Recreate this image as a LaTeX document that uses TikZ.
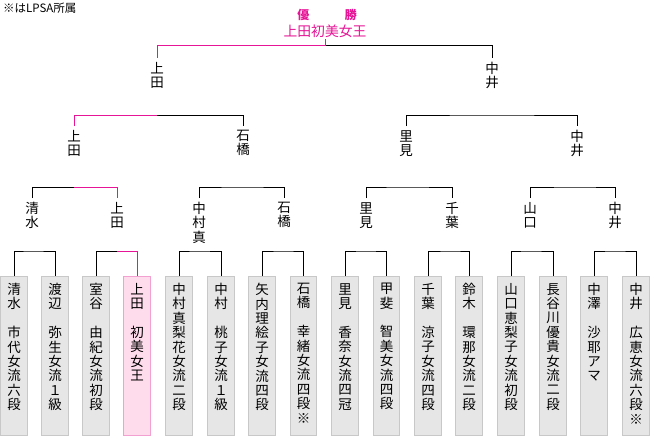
\documentclass[tikz,border=0pt]{standalone}
\usepackage{fontspec}
\newfontfamily\jpfont{Noto Sans CJK JP}
\usetikzlibrary{positioning}
\definecolor{winpink}{RGB}{230,20,150}
\definecolor{boxgray}{RGB}{230,230,230}
\definecolor{edgegray}{RGB}{200,200,200}
\definecolor{boxpink}{RGB}{255,220,236}
\definecolor{edgepink}{RGB}{242,160,210}

\begin{document}
\begin{tikzpicture}[
    x=1pt, y=-1pt,
    player/.style={draw=edgegray, fill=boxgray, line width=1pt, minimum width=26.5pt,
                   minimum height=159pt, inner sep=0pt, anchor=north},
    winbox/.style={player, draw=edgepink, fill=boxpink},
    pname/.style={font=\jpfont\fontsize{13.5}{14.4}\selectfont, align=center, inner sep=0pt},
    rname/.style={pname, anchor=north, inner xsep=0pt, inner ysep=4pt},
    bline/.style={line width=1pt, black},
    wline/.style={line width=1pt, winpink},
]
\useasboundingbox[fill=white] (0,0) rectangle (650,436);

\node[font=\jpfont\fontsize{11.5}{12}\selectfont, anchor=north west, inner sep=0pt] (note) at (3,3) {※はLPSA所属};

% Champion
\node[font=\jpfont\bfseries\fontsize{12}{12}\selectfont, text=winpink, inner sep=0pt] (yusho) at (327,15) {優\hspace{35.5pt}勝};
\node[font=\jpfont\fontsize{13.8}{14}\selectfont, text=winpink, anchor=south, inner xsep=0pt, inner ysep=1.5pt] (champ) at (325,39) {上田初美女王};

% Players
\node[player] (p1) at (14,276) {};
\node[player] (p2) at (55,276) {};
\node[player] (p3) at (96,276) {};
\node[winbox] (p4) at (137,276) {};
\node[player] (p5) at (179,276) {};
\node[player] (p6) at (221,276) {};
\node[player] (p7) at (262,276) {};
\node[player] (p8) at (303.5,276) {};
\node[player] (p9) at (345,276) {};
\node[player] (p10) at (386.5,276) {};
\node[player] (p11) at (428,276) {};
\node[player] (p12) at (469,276) {};
\node[player] (p13) at (511,276) {};
\node[player] (p14) at (553,276) {};
\node[player] (p15) at (594,276) {};
\node[player] (p16) at (636,276) {};

\node[pname, below=7pt of p1.north] (n1) {清\\水\\　\\市\\代\\女\\流\\六\\段};
\node[pname, below=7pt of p2.north] (n2) {渡\\辺\\　\\弥\\生\\女\\流\\１\\級};
\node[pname, below=7pt of p3.north] (n3) {室\\谷\\　\\由\\紀\\女\\流\\初\\段};
\node[pname, below=7pt of p4.north] (n4) {上\\田\\　\\初\\美\\女\\王};
\node[pname, below=7pt of p5.north] (n5) {中\\村\\真\\梨\\花\\女\\流\\二\\段};
\node[pname, below=7pt of p6.north] (n6) {中\\村\\　\\桃\\子\\女\\流\\１\\級};
\node[pname, below=7pt of p7.north] (n7) {矢\\内\\理\\絵\\子\\女\\流\\四\\段};
\node[pname, below=7pt of p8.north] (n8) {石\\橋\\　\\幸\\緒\\女\\流\\四\\段\\※};
\node[pname, below=7pt of p9.north] (n9) {里\\見\\　\\香\\奈\\女\\流\\四\\冠};
\node[pname, below=7pt of p10.north] (n10) {甲\\斐\\　\\智\\美\\女\\流\\四\\段};
\node[pname, below=7pt of p11.north] (n11) {千\\葉\\　\\涼\\子\\女\\流\\四\\段};
\node[pname, below=7pt of p12.north] (n12) {鈴\\木\\　\\環\\那\\女\\流\\二\\段};
\node[pname, below=7pt of p13.north] (n13) {山\\口\\恵\\梨\\子\\女\\流\\初\\段};
\node[pname, below=7pt of p14.north] (n14) {長\\谷\\川\\優\\貴\\女\\流\\二\\段};
\node[pname, below=7pt of p15.north] (n15) {中\\澤\\　\\沙\\耶\\ア\\マ};
\node[pname, below=7pt of p16.north] (n16) {中\\井\\　\\広\\恵\\女\\流\\六\\段\\※};

% Round winners
\node[rname] (r2a) at (32,198) {清\\水};
\node[rname] (r2b) at (117,198) {上\\田};
\node[rname] (r2c) at (199,198) {中\\村\\真};
\node[rname] (r2d) at (284,198) {石\\橋};
\node[rname] (r2e) at (366,198) {里\\見};
\node[rname] (r2f) at (452,198) {千\\葉};
\node[rname] (r2g) at (530,198) {山\\口};
\node[rname] (r2h) at (615,198) {中\\井};

\node[rname] (r3a) at (74,126) {上\\田};
\node[rname] (r3b) at (243,126) {石\\橋};
\node[rname] (r3c) at (406,126) {里\\見};
\node[rname] (r3d) at (577,126) {中\\井};

\node[rname] (r4a) at (157,58) {上\\田};
\node[rname] (r4b) at (492,58) {中\\井};

% Round 1
\draw[bline] (p1.north) |- (r2a |- 0,251) -| (p2.north);
\draw[bline] (p3.north) |- (r2b |- 0,251);
\draw[wline] (r2b |- 0,251) -| (p4.north);
\draw[bline] (p5.north) |- (r2c |- 0,251) -| (p6.north);
\draw[bline] (p7.north) |- (r2d |- 0,251) -| (p8.north);
\draw[bline] (p9.north) |- (r2e |- 0,251) -| (p10.north);
\draw[bline] (p11.north) |- (r2f |- 0,251) -| (p12.north);
\draw[bline] (p13.north) |- (r2g |- 0,251) -| (p14.north);
\draw[bline] (p15.north) |- (r2h |- 0,251) -| (p16.north);

% Round 2
\draw[bline] (r2a.north) |- (r3a |- 0,187);
\draw[wline] (r3a |- 0,187) -| (r2b.north);
\draw[bline] (r2c.north) |- (r3b |- 0,187) -| (r2d.north);
\draw[bline] (r2e.north) |- (r3c |- 0,187) -| (r2f.north);
\draw[bline] (r2g.north) |- (r3d |- 0,187) -| (r2h.north);

% Round 3
\draw[bline] (r4a |- 0,115) -| (r3b.north);
\draw[wline] (r3a.north) |- (r4a |- 0,115);
\draw[bline] (r3c.north) |- (r4b |- 0,115) -| (r3d.north);

% Final
\draw[bline] (champ |- 0,46) -| (r4b.north);
\draw[wline] (r4a.north) |- (champ |- 0,46) -- (champ.south);

\end{tikzpicture}
\end{document}
